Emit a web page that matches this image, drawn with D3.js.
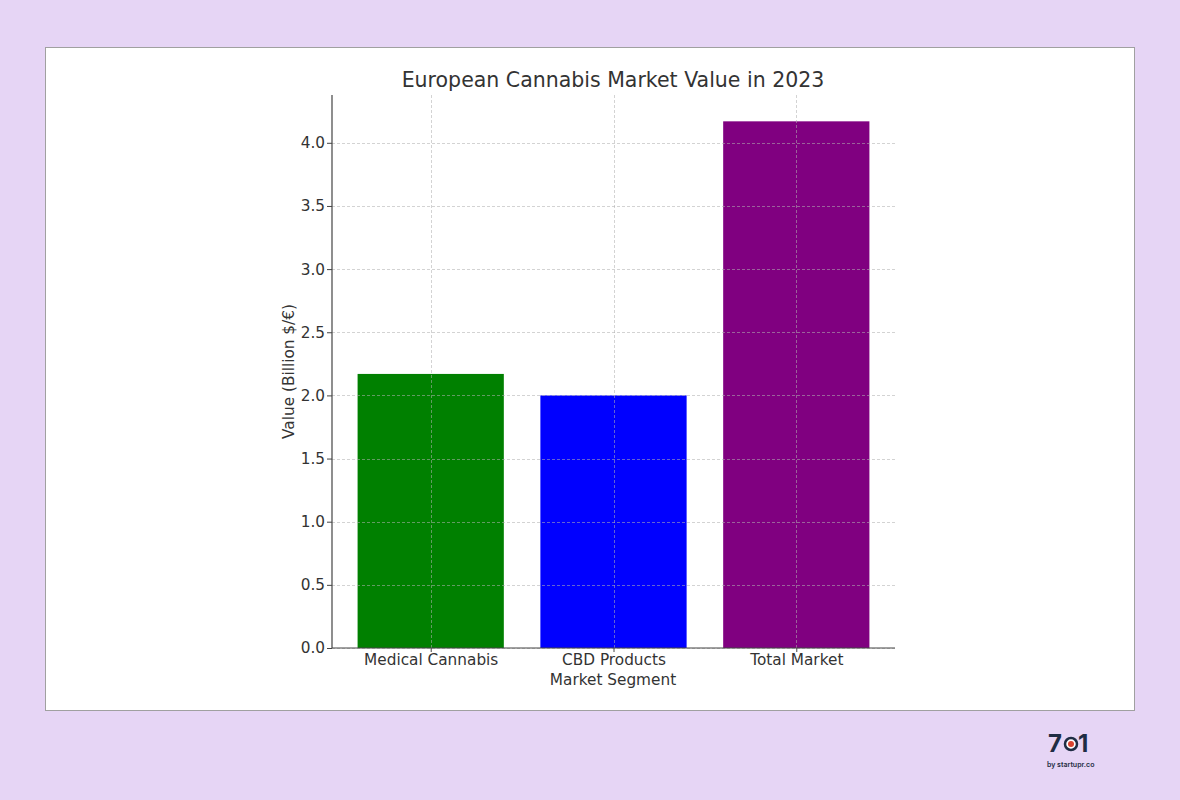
<!DOCTYPE html>
<html><head><meta charset="utf-8">
<script src="https://cdn.jsdelivr.net/npm/d3@7"></script>
<style>
html,body{margin:0;padding:0;background:#e6d5f5;}
svg{display:block;font-family:"DejaVu Sans",sans-serif;}
</style></head>
<body>
<script>
const categories = ["Medical Cannabis", "CBD Products", "Total Market"];
const values = [2.17, 2.0, 4.17];
const colors = ["#008000", "#0000ff", "#800080"];
const yTicks = [0, 0.5, 1.0, 1.5, 2.0, 2.5, 3.0, 3.5, 4.0];
const title = "European Cannabis Market Value in 2023";
const xLabel = "Market Segment";
const yLabel = "Value (Billion $/€)";

(function () {
const W = 1180, H = 800;
const svg = d3.select("body").append("svg").attr("width", W).attr("height", H);
svg.append("rect").attr("width", W).attr("height", H).attr("fill", "#e6d5f5");
svg.append("rect").attr("x", 45.5).attr("y", 47.5).attr("width", 1089).attr("height", 663)
  .attr("fill", "#fff").attr("stroke", "#a0a0a0").attr("stroke-width", 1);

const pL = 332, pR = 895, pT = 95, pB = 648;
const x = d3.scaleLinear().domain([-0.54, 2.54]).range([pL, pR]);
const y = d3.scaleLinear().domain([0, 4.3785]).range([pB, pT]);
const bw = 0.8;
const fs = 15.3;

const g = svg.append("g");
g.selectAll("rect.bar").data(values).join("rect").attr("class", "bar")
  .attr("x", (d, i) => x(i - bw / 2)).attr("width", (d, i) => x(i + bw / 2) - x(i - bw / 2))
  .attr("y", d => y(d)).attr("height", d => y(0) - y(d))
  .attr("fill", (d, i) => colors[i]);

g.selectAll("line.hg").data(yTicks).join("line").attr("class", "hg")
  .attr("x1", pL).attr("x2", pR).attr("y1", d => Math.round(y(d)) + 0.5).attr("y2", d => Math.round(y(d)) + 0.5)
  .attr("stroke", "#b0b0b0").attr("stroke-opacity", 0.7).attr("stroke-dasharray", "3,2").attr("stroke-width", 0.8);
g.selectAll("line.vg").data(categories).join("line").attr("class", "vg")
  .attr("y1", pT).attr("y2", pB).attr("x1", (d, i) => Math.round(x(i)) + 0.5).attr("x2", (d, i) => Math.round(x(i)) + 0.5)
  .attr("stroke", "#b0b0b0").attr("stroke-opacity", 0.7).attr("stroke-dasharray", "3,2").attr("stroke-width", 0.8);

const yAxis = d3.axisLeft(y).tickValues(yTicks).tickFormat(d3.format(".1f")).tickSize(5).tickPadding(2);
const ya = svg.append("g").attr("transform", `translate(${pL},0)`).call(yAxis);
const xAxis = d3.axisBottom(x).tickValues([0, 1, 2]).tickFormat(i => categories[i]).tickSize(4).tickPadding(2);
const xa = svg.append("g").attr("transform", `translate(0,${pB})`).call(xAxis);
[ya, xa].forEach(a => {
  a.select(".domain").attr("stroke", "#444").attr("stroke-width", 1.2);
  a.selectAll(".tick line").attr("stroke", "#444");
  a.selectAll("text").attr("fill", "#333").attr("font-size", fs).attr("font-family", "DejaVu Sans, sans-serif");
});
ya.select(".domain").attr("d", `M0,${pT}V${pB}`);
xa.select(".domain").attr("d", `M${pL},0H${pR}`);

svg.append("text").attr("x", 613).attr("y", 87).attr("text-anchor", "middle")
  .attr("font-size", 20.5).attr("fill", "#333").text(title);
svg.append("text").attr("x", 613).attr("y", 685).attr("text-anchor", "middle")
  .attr("font-size", fs).attr("fill", "#333").text(xLabel);
svg.append("text").attr("transform", `translate(294,${(pT + pB) / 2}) rotate(-90)`).attr("text-anchor", "middle")
  .attr("font-size", fs).attr("fill", "#333").text(yLabel);

const lg = svg.append("g");
lg.append("text").attr("x", 1048).attr("y", 752).attr("font-size", 24).attr("font-weight", "bold")
  .attr("fill", "#1f2d44").attr("font-family", "Inter, sans-serif").text("7");
lg.append("circle").attr("cx", 1071).attr("cy", 744).attr("r", 6).attr("fill", "#fff").attr("stroke", "#1f2d44").attr("stroke-width", 2.5);
lg.append("circle").attr("cx", 1071).attr("cy", 744).attr("r", 3).attr("fill", "#d9432f");
lg.append("text").attr("x", 1078).attr("y", 752).attr("font-size", 24).attr("font-weight", "bold")
  .attr("fill", "#1f2d44").attr("font-family", "Inter, sans-serif").text("1");
lg.append("text").attr("x", 1047).attr("y", 767).attr("font-size", 7).attr("font-weight", 600)
  .attr("fill", "#1f2d44").attr("font-family", "Inter, sans-serif").text("by startupr.co");
})();
</script>
</body></html>
